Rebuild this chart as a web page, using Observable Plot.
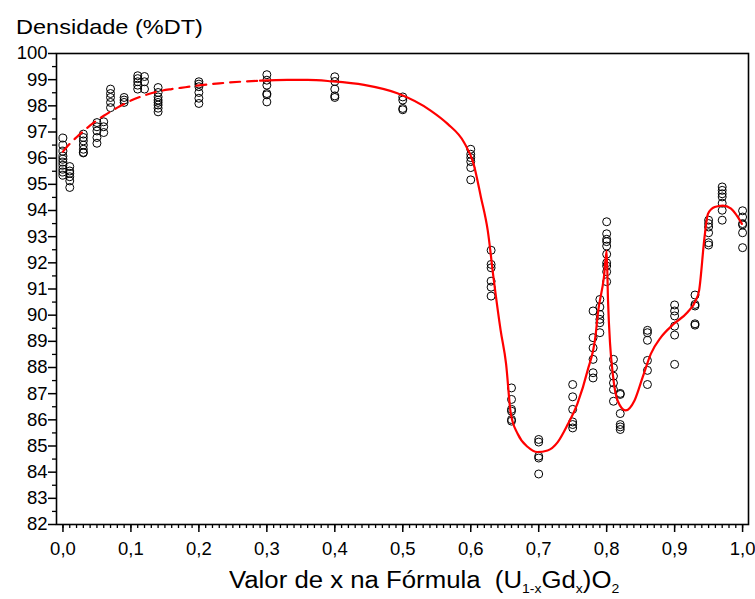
<!DOCTYPE html>
<html><head><meta charset="utf-8">
<script src="https://cdn.jsdelivr.net/npm/d3@7"></script>
<script src="https://cdn.jsdelivr.net/npm/@observablehq/plot@0.6"></script>
<style>
body{margin:0;background:#fff;font-family:"Liberation Sans",Arial,sans-serif;color:#000;}
#wrap{position:relative;width:755px;height:599px;overflow:hidden;background:#fff;}
#title{position:absolute;left:16px;top:15.5px;font-size:21px;line-height:21px;transform:scaleX(1.12);transform-origin:0 0;white-space:nowrap;}
#xlabel{position:absolute;left:229px;top:569px;font-size:23px;line-height:23px;transform:scaleX(1.12);transform-origin:0 0;white-space:nowrap;}
#xlabel sub{font-size:12.5px;vertical-align:-5px;line-height:0;}
#chart{position:absolute;left:0;top:0;}
</style>
</head><body>
<div id="wrap">
  <div id="chart"></div>
  <div id="title">Densidade (%DT)</div>
  <div id="xlabel">Valor de x na Fórmula&nbsp;&nbsp;(U<sub>1-x</sub>Gd<sub>x</sub>)O<sub>2</sub></div>
</div>
<script>
// Gd fraction x of each measured composition
const compositions = [0, 0.01, 0.03, 0.05, 0.06, 0.07, 0.09, 0.11, 0.12, 0.14, 0.2, 0.3, 0.4, 0.5, 0.6, 0.63, 0.66, 0.7, 0.75, 0.78, 0.79, 0.8, 0.81, 0.82, 0.86, 0.9, 0.93, 0.95, 0.97, 1.0];
// measured densities (%DT) for each composition
const densities = [
  [96.77, 96.5, 96.27, 96.08, 95.96, 95.85, 95.73, 95.58, 95.47, 95.35],
  [95.68, 95.51, 95.42, 95.29, 95.13, 94.88],
  [96.92, 96.79, 96.66, 96.5, 96.34, 96.22, 96.2],
  [97.36, 97.2, 97.04, 96.79, 96.57],
  [97.39, 97.2, 96.98],
  [98.64, 98.47, 98.32, 98.13, 97.93],
  [98.32, 98.22, 98.13],
  [99.15, 99.04, 98.92, 98.79, 98.64],
  [99.12, 98.92, 98.64],
  [98.7, 98.51, 98.34, 98.22, 98.13, 98.03, 97.91, 97.77],
  [98.92, 98.83, 98.73, 98.51, 98.29, 98.09],
  [99.19, 98.98, 98.79, 98.47, 98.42, 98.15],
  [99.11, 98.93, 98.64, 98.38, 98.32],
  [98.34, 98.22, 97.9, 97.85],
  [96.34, 96.15, 96.02, 95.87, 95.64, 95.17],
  [92.48, 91.94, 91.81, 91.3, 91.07, 90.73],
  [87.22, 86.78, 86.4, 86.33, 86.01, 85.95],
  [85.25, 85.15, 84.61, 84.54, 83.93],
  [87.35, 86.88, 86.4, 85.92, 85.82, 85.69],
  [90.16, 89.14, 88.75, 88.31, 87.8, 87.6],
  [90.6, 90.31, 90.03, 89.84, 89.71, 89.33],
  [93.57, 93.11, 92.9, 92.81, 92.64, 92.33, 92.0, 91.88, 91.66, 91.28],
  [88.31, 87.99, 87.67, 87.41, 87.16, 86.71],
  [87.01, 86.97, 86.24, 85.82, 85.73, 85.63],
  [89.42, 89.33, 89.04, 88.27, 87.89, 87.35],
  [90.39, 90.16, 89.97, 89.58, 89.24, 88.12],
  [90.77, 90.41, 90.35, 89.67, 89.62],
  [93.63, 93.5, 93.37, 93.15, 92.77, 92.68],
  [94.9, 94.77, 94.64, 94.52, 94.28, 94.01, 93.63],
  [93.99, 93.75, 93.5, 93.45, 93.15, 92.58]
];
// fitted trend (dashed part, extrapolated region)
const trendDashedX = [0, 0.01, 0.02, 0.03, 0.04, 0.05, 0.06, 0.07, 0.08, 0.09, 0.10, 0.12, 0.14, 0.16, 0.18, 0.20, 0.23, 0.26, 0.29];
const trendDashedY = [96.25, 96.55, 96.8, 97.03, 97.25, 97.45, 97.62, 97.78, 97.93, 98.07, 98.2, 98.4, 98.55, 98.64, 98.71, 98.78, 98.86, 98.92, 98.96];
// fitted trend (solid part)
const trendSolidX = [0.29, 0.33, 0.36, 0.394, 0.443, 0.492, 0.541, 0.566, 0.59, 0.604, 0.615, 0.625, 0.634, 0.644, 0.652, 0.659, 0.669, 0.684, 0.698, 0.713, 0.728, 0.742, 0.757, 0.772, 0.784, 0.787, 0.796, 0.8, 0.802, 0.805, 0.809, 0.816, 0.828, 0.841, 0.853, 0.865, 0.88, 0.899, 0.919, 0.931, 0.936, 0.944, 0.949, 0.959, 0.971, 0.983, 0.999];
const trendSolidY = [98.96, 98.99, 98.99, 98.94, 98.8, 98.48, 97.82, 97.31, 96.61, 95.8, 94.51, 93.24, 91.33, 89.42, 88.14, 86.23, 85.47, 84.96, 84.77, 84.83, 85.15, 85.79, 86.62, 87.89, 89.29, 90.05, 91.45, 92.47, 90.56, 88.91, 87.76, 86.74, 86.36, 86.74, 87.63, 88.52, 89.16, 89.67, 90.11, 90.56, 90.94, 92.98, 93.87, 94.13, 94.19, 94.07, 93.49];
// axis ticks
const xMajorTicks = [0, 0.1, 0.2, 0.3, 0.4, 0.5, 0.6, 0.7, 0.8, 0.9, 1.0];
const xMinorTicks = d3.range(-1, 101).map(i => i / 100);
const yMajorTicks = d3.range(82, 101);
const yMinorTicks = d3.range(82, 100).map(v => v + 0.5);

const obs = compositions.flatMap((x, i) => densities[i].map(y => ({x, y})));
const dashed = trendDashedX.map((x, i) => ({x, y: trendDashedY[i]}));
const solid = trendSolidX.map((x, i) => ({x, y: trendSolidY[i]}));

const chart = Plot.plot({
  width: 755, height: 599,
  marginLeft: 56, marginRight: 7, marginTop: 53, marginBottom: 75,
  style: {fontFamily: "'Liberation Sans', Arial, sans-serif", fontSize: "18.5px", background: "white", color: "black"},
  x: {domain: [-0.0095, 1.0087], label: null},
  y: {domain: [82, 100], label: null},
  marks: [
    Plot.axisX(xMinorTicks.filter(v => v >= -0.0095), {tickSize: 4, tickFormat: () => "", strokeWidth: 1.3, label: null}),
    Plot.axisX(xMajorTicks, {tickSize: 8, tickPadding: 9, strokeWidth: 1.5, fontSize: 18.5, tickFormat: d => d.toFixed(1).replace(".", ","), label: null}),
    Plot.axisY(yMinorTicks, {tickSize: 4, tickFormat: () => "", strokeWidth: 1.3, label: null}),
    Plot.axisY(yMajorTicks, {tickSize: 8, tickPadding: 1, strokeWidth: 1.5, fontSize: 18.5, label: null}),
    Plot.dot(obs, {x: "x", y: "y", r: 4, stroke: "black", strokeWidth: 1, fill: "none"}),
    Plot.line(dashed, {x: "x", y: "y", stroke: "#ff0000", strokeWidth: 2.2, strokeDasharray: "10,7", curve: "monotone-x"}),
    Plot.line(solid, {x: "x", y: "y", stroke: "#ff0000", strokeWidth: 2.2, curve: "monotone-x"}),
    Plot.frame({stroke: "black", strokeWidth: 1.6})
  ]
});
document.getElementById("chart").appendChild(chart);
</script>
</body></html>
